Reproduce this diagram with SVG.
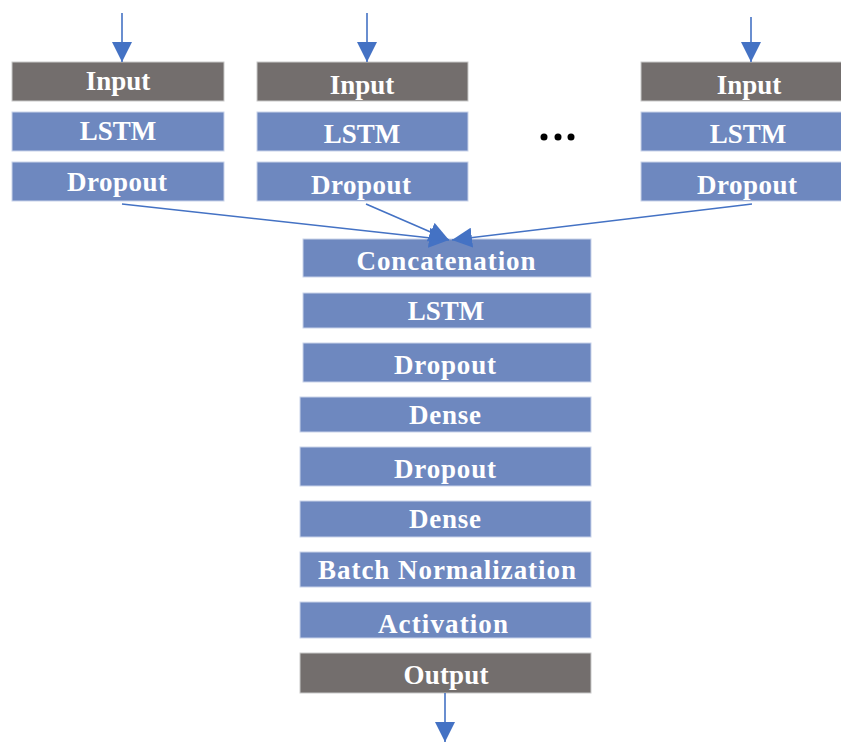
<svg xmlns="http://www.w3.org/2000/svg" width="841" height="742" viewBox="0 0 841 742">
<defs>
<marker id="ah" markerUnits="userSpaceOnUse" markerWidth="20" markerHeight="20" refX="20" refY="10" orient="auto" viewBox="0 0 20 20">
<path d="M0,0 L20,10 L0,20 z" fill="#4472c4"/>
</marker>
</defs>
<style>
.b{fill:#6e88bf;stroke:#c9d3ea;stroke-width:1}
.g{fill:#736e6d;stroke:#c9c9c9;stroke-width:1}
.t{font-family:"Liberation Serif","Times New Roman",serif;font-weight:bold;font-size:27px;fill:#ffffff;text-anchor:middle}
.c{stroke:#4472c4;stroke-width:1.6;fill:none}
</style>
<rect width="841" height="742" fill="#ffffff"/>
<g id="col1">
<g id="input1"><rect class="g" x="12" y="62" width="212" height="39"/><text class="t" x="118" y="90">Input</text></g>
<g id="lstm1"><rect class="b" x="12" y="112" width="212" height="39"/><text class="t" x="118" y="140">LSTM</text></g>
<g id="dropout1"><rect class="b" x="12" y="162" width="212" height="39"/><text class="t" x="117" y="191" textLength="100" lengthAdjust="spacing">Dropout</text></g>
</g>
<g id="col2">
<g id="input2"><rect class="g" x="257" y="62" width="211" height="39"/><text class="t" x="362" y="94">Input</text></g>
<g id="lstm2"><rect class="b" x="257" y="112" width="211" height="39"/><text class="t" x="362" y="143">LSTM</text></g>
<g id="dropout2"><rect class="b" x="257" y="162" width="211" height="39"/><text class="t" x="361" y="194" textLength="100" lengthAdjust="spacing">Dropout</text></g>
</g>
<g id="dots"><circle cx="544" cy="137" r="3.5" fill="#000"/><circle cx="558" cy="137" r="3.5" fill="#000"/><circle cx="571" cy="137" r="3.5" fill="#000"/></g>
<g id="col3">
<g id="input3"><rect class="g" x="641" y="62" width="212" height="39"/><text class="t" x="749" y="94">Input</text></g>
<g id="lstm3"><rect class="b" x="641" y="112" width="212" height="39"/><text class="t" x="748" y="143">LSTM</text></g>
<g id="dropout3"><rect class="b" x="641" y="162" width="212" height="39"/><text class="t" x="747" y="194" textLength="100" lengthAdjust="spacing">Dropout</text></g>
</g>
<g id="concatenation"><rect class="b" x="303" y="239" width="288" height="38"/><text class="t" x="446" y="270" textLength="179" lengthAdjust="spacing">Concatenation</text></g>
<g id="lstm4"><rect class="b" x="303" y="293" width="288" height="35"/><text class="t" x="446" y="320">LSTM</text></g>
<g id="dropout4"><rect class="b" x="303" y="343" width="288" height="39"/><text class="t" x="445" y="374" textLength="102" lengthAdjust="spacing">Dropout</text></g>
<g id="dense1"><rect class="b" x="300" y="397" width="291" height="35"/><text class="t" x="445" y="424" textLength="72" lengthAdjust="spacing">Dense</text></g>
<g id="dropout5"><rect class="b" x="300" y="447" width="291" height="39"/><text class="t" x="445" y="478" textLength="102" lengthAdjust="spacing">Dropout</text></g>
<g id="dense2"><rect class="b" x="300" y="501" width="291" height="36"/><text class="t" x="445" y="528" textLength="72" lengthAdjust="spacing">Dense</text></g>
<g id="batchnorm"><rect class="b" x="300" y="552" width="291" height="35"/><text class="t" x="447" y="579" textLength="258" lengthAdjust="spacing">Batch Normalization</text></g>
<g id="activation"><rect class="b" x="300" y="602" width="291" height="36"/><text class="t" x="443" y="633" textLength="130" lengthAdjust="spacing">Activation</text></g>
<g id="output"><rect class="g" x="300" y="653" width="291" height="40"/><text class="t" x="446" y="684" textLength="85" lengthAdjust="spacing">Output</text></g>
<g id="connectors">
<line class="c" x1="122" y1="13" x2="122" y2="62" marker-end="url(#ah)"/>
<line class="c" x1="367" y1="13" x2="367" y2="62" marker-end="url(#ah)"/>
<line class="c" x1="751" y1="17" x2="751" y2="62" marker-end="url(#ah)"/>
<line class="c" x1="122" y1="204" x2="449" y2="240" marker-end="url(#ah)"/>
<line class="c" x1="366" y1="204" x2="449" y2="240" marker-end="url(#ah)"/>
<line class="c" x1="752" y1="204" x2="452" y2="240" marker-end="url(#ah)"/>
<line class="c" x1="445" y1="693" x2="445" y2="742" marker-end="url(#ah)"/>
</g>
</svg>
